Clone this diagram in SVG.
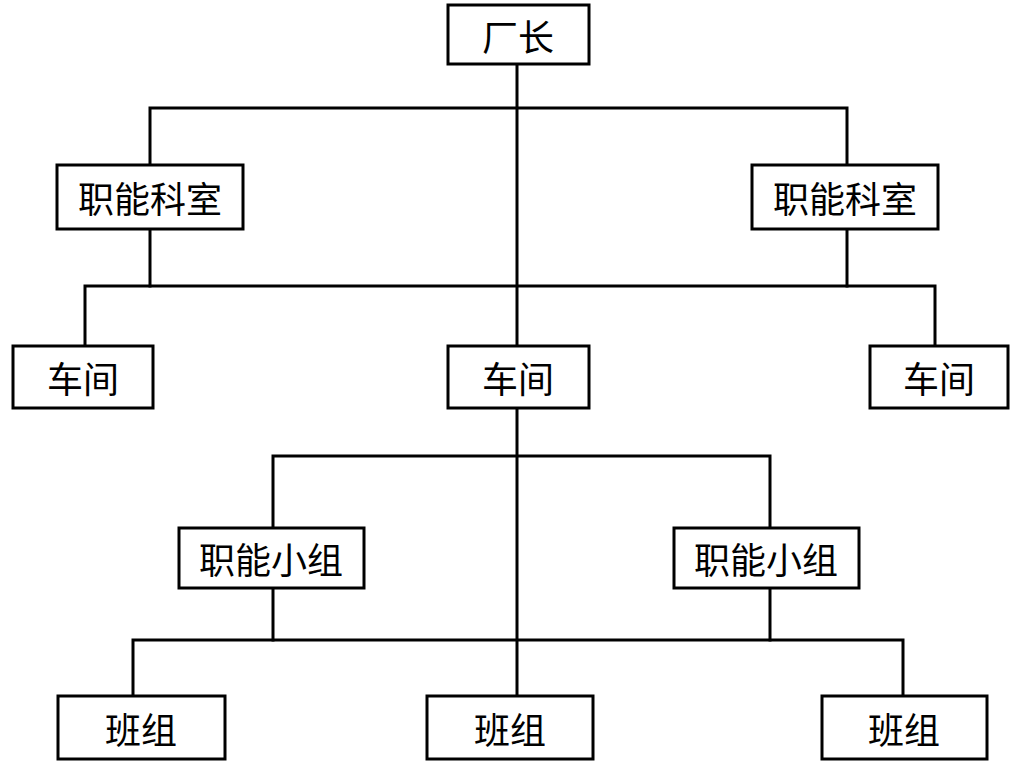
<svg xmlns="http://www.w3.org/2000/svg" width="1015" height="769" viewBox="0 0 1015 769">
<style>
.box{fill:#fff;stroke:#000;stroke-width:3}
.lbl{font-family:"Noto Sans CJK SC","Noto Sans CJK JP",sans-serif;font-size:36px;fill:#000;text-anchor:middle;dominant-baseline:central}
.ln{fill:none;stroke:#000;stroke-width:3;stroke-linecap:square}
</style>
<rect width="1015" height="769" fill="#fff"/>
<g id="connectors">
<path class="ln" d="M517 64V346"/>
<path class="ln" d="M150 165V108H847V165"/>
<path class="ln" d="M150 229V286"/>
<path class="ln" d="M847 229V286"/>
<path class="ln" d="M85 346V286H935V346"/>
<path class="ln" d="M517 408V696"/>
<path class="ln" d="M273 528V456H770V528"/>
<path class="ln" d="M273 588V640"/>
<path class="ln" d="M770 588V640"/>
<path class="ln" d="M133 696V640H903V696"/>
</g>
<g id="n-changzhang"><rect class="box" x="448" y="5" width="141" height="59"/><text class="lbl" x="518" y="35">厂长</text></g>
<g id="n-keshi-l"><rect class="box" x="57" y="165" width="186" height="64"/><text class="lbl" x="150" y="197">职能科室</text></g>
<g id="n-keshi-r"><rect class="box" x="752" y="165" width="186" height="64"/><text class="lbl" x="845" y="197">职能科室</text></g>
<g id="n-chejian-l"><rect class="box" x="13" y="346" width="140" height="62"/><text class="lbl" x="83" y="377">车间</text></g>
<g id="n-chejian-c"><rect class="box" x="448" y="346" width="141" height="62"/><text class="lbl" x="518" y="377">车间</text></g>
<g id="n-chejian-r"><rect class="box" x="870" y="346" width="138" height="62"/><text class="lbl" x="939" y="377">车间</text></g>
<g id="n-xiaozu-l"><rect class="box" x="179" y="528" width="185" height="60"/><text class="lbl" x="271" y="558">职能小组</text></g>
<g id="n-xiaozu-r"><rect class="box" x="674" y="528" width="185" height="60"/><text class="lbl" x="766" y="558">职能小组</text></g>
<g id="n-banzu-l"><rect class="box" x="58" y="696" width="167" height="63"/><text class="lbl" x="141" y="728">班组</text></g>
<g id="n-banzu-c"><rect class="box" x="427" y="696" width="166" height="63"/><text class="lbl" x="510" y="728">班组</text></g>
<g id="n-banzu-r"><rect class="box" x="822" y="696" width="165" height="63"/><text class="lbl" x="904" y="728">班组</text></g>
</svg>
